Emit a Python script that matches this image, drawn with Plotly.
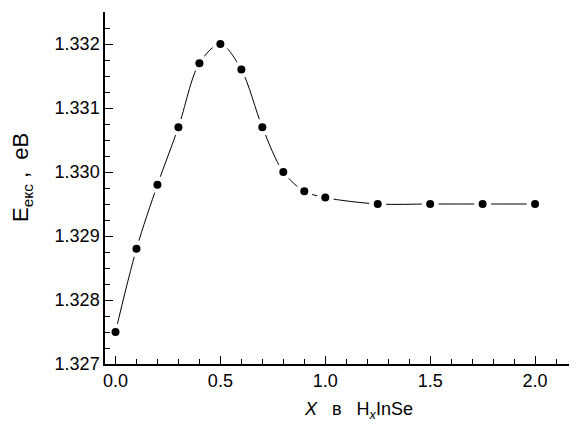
import plotly.graph_objects as go

x_vals = [0.0, 0.1, 0.2, 0.3, 0.4, 0.5, 0.6, 0.7, 0.8, 0.9, 1.0, 1.25, 1.5, 1.75, 2.0]
e_vals = [1.3275, 1.3288, 1.3298, 1.3307, 1.3317, 1.3320, 1.3316, 1.3307, 1.3300,
          1.3297, 1.3296, 1.3295, 1.3295, 1.3295, 1.3295]

x_ticks = [0.0, 0.5, 1.0, 1.5, 2.0]
x_tick_text = ["0.0", "0.5", "1.0", "1.5", "2.0"]
y_ticks = [1.327, 1.328, 1.329, 1.330, 1.331, 1.332]
y_tick_text = ["1.327", "1.328", "1.329", "1.330", "1.331", "1.332"]

font = "Liberation Sans, Arial, sans-serif"

fig = go.Figure()
fig.add_trace(go.Scatter(x=x_vals, y=e_vals, mode="lines",
                         line=dict(color="black", width=1, shape="spline", smoothing=0.9),
                         hoverinfo="skip", showlegend=False))
fig.add_trace(go.Scatter(x=x_vals, y=e_vals, mode="markers",
                         marker=dict(color="white", size=17, line=dict(width=0)),
                         hoverinfo="skip", showlegend=False))
fig.add_trace(go.Scatter(x=x_vals, y=e_vals, mode="markers",
                         marker=dict(color="black", size=8, line=dict(width=0)),
                         showlegend=False))

# plot area in the reference: x 105..577, y 12..364
fig.update_layout(
    width=577, height=425,
    margin=dict(l=97, r=8, t=4, b=69),
    paper_bgcolor="white", plot_bgcolor="white",
    font=dict(family=font, size=18, color="black"),
    xaxis=dict(range=[-0.05, 2.2], tickvals=x_ticks, ticktext=x_tick_text, automargin=False,
               ticks="inside", ticklen=8, tickwidth=1, tickcolor="black",
               minor=dict(dtick=0.1, tick0=0, ticks="inside", ticklen=5, tickcolor="black", tickwidth=1),
               showline=True, linecolor="black", linewidth=1.5, showgrid=False, zeroline=False,
               tickfont=dict(size=18)),
    yaxis=dict(range=[1.327, 1.3325], tickvals=y_ticks, ticktext=y_tick_text, automargin=False,
               ticks="inside", ticklen=8, tickwidth=1, tickcolor="black",
               minor=dict(dtick=0.00025, tick0=1.327, ticks="inside", ticklen=5, tickcolor="black", tickwidth=1),
               showline=True, linecolor="black", linewidth=1.5, showgrid=False, zeroline=False,
               tickfont=dict(size=18)),
    annotations=[
        dict(text="<i>X</i>&nbsp;&nbsp;&nbsp;в&nbsp;&nbsp;&nbsp;H<sub><i>x</i></sub>InSe",
             xref="paper", yref="paper", x=(358 - 105) / 472, y=-(410 - 364) / 352,
             xanchor="center", yanchor="middle", showarrow=False, font=dict(size=18)),
        dict(text="E<sub>екс</sub> ,&nbsp;&nbsp;eB", textangle=-90,
             xref="paper", yref="paper", x=-(105 - 22) / 472, y=(364 - 178) / 352,
             xanchor="center", yanchor="middle", showarrow=False, font=dict(size=22)),
    ],
)

fig.write_html("out.html")
